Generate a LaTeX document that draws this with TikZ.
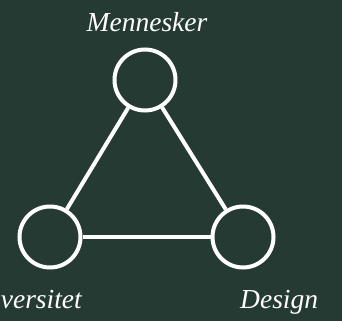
\documentclass[tikz,border=0pt]{standalone}
\usepackage{fontspec}
\setmainfont{Liberation Serif}
\usetikzlibrary{positioning}
\definecolor{forest}{HTML}{263A34}
\tikzset{
  hub/.style={circle,draw=white,line width=4pt,fill=forest,minimum size=61pt,inner sep=0pt},
  tag/.style={text=white,font=\fontsize{27.5}{32}\selectfont\itshape,inner sep=0pt},
  link/.style={draw=white,line width=4pt}
}
\begin{document}
\begin{tikzpicture}[node distance=4mm,on grid]
    \useasboundingbox (0,0) rectangle (342pt,-321pt);
    \fill[forest] (0,0) rectangle (342pt,-321pt);
    \node[hub] (m) at (145pt,-80pt) {};
    \node[hub,below left=157pt and 95pt of m] (u) {};
    \node[hub,right=193pt of u] (d) {};
    \draw[link] (m) -- (u);
    \draw[link] (m) -- (d);
    \draw[link] (u) -- (d);
    \node[tag,above right=48pt and 2pt of m,anchor=base] (mt) {Mennesker};
    \node[tag,below right=71pt and 32pt of u,anchor=base east] (ut) {Universitet};
    \node[tag,below left=71pt and 3pt of d,anchor=base west] (dt) {Design};
  \end{tikzpicture}
\end{document}
